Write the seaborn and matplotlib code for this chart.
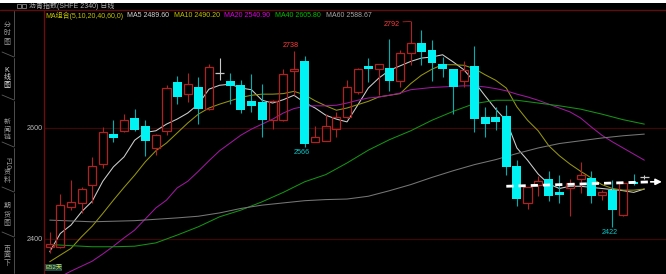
import matplotlib
matplotlib.use("Agg")
import matplotlib.pyplot as plt
from matplotlib.patches import Rectangle
from matplotlib.lines import Line2D
import numpy as np
import pandas as pd
import seaborn as sns

# ---------------- data ----------------
opens = [2386, 2386, 2458, 2464, 2498, 2536, 2589, 2595, 2618, 2604, 2564, 2595, 2682, 2661, 2674, 2635,
         2700, 2685, 2677, 2649, 2647, 2614, 2614, 2703, 2721, 2575, 2577, 2598, 2619, 2664, 2712, 2706,
         2709, 2684, 2736, 2753, 2740, 2715, 2706, 2684, 2712, 2620, 2620, 2622, 2531, 2465, 2497, 2508,
         2484, 2491, 2508, 2510, 2480, 2489, 2444, 2503, 2512]
highs = [2413, 2481, 2506, 2494, 2548, 2601, 2614, 2625, 2634, 2614, 2590, 2677, 2694, 2700, 2692, 2715,
         2727, 2699, 2686, 2698, 2680, 2650, 2707, 2738, 2729, 2604, 2626, 2628, 2686, 2708, 2727, 2715,
         2760, 2740, 2792, 2777, 2758, 2728, 2706, 2721, 2747, 2638, 2638, 2641, 2542, 2494, 2513, 2522,
         2516, 2508, 2539, 2522, 2488, 2506, 2503, 2518, 2516]
lows = [2375, 2384, 2452, 2446, 2464, 2528, 2575, 2592, 2595, 2550, 2551, 2587, 2643, 2646, 2607, 2633,
        2686, 2644, 2627, 2628, 2584, 2598, 2612, 2659, 2566, 2574, 2576, 2584, 2618, 2662, 2682, 2660,
        2666, 2674, 2714, 2714, 2685, 2692, 2625, 2673, 2593, 2584, 2596, 2515, 2460, 2454, 2477, 2469,
        2465, 2442, 2483, 2465, 2470, 2422, 2442, 2498, 2508]
closes = [2391, 2462, 2466, 2490, 2531, 2592, 2582, 2614, 2596, 2577, 2587, 2672, 2655, 2680, 2635, 2710,
          2700, 2675, 2632, 2640, 2614, 2649, 2697, 2706, 2572, 2583, 2604, 2619, 2674, 2706, 2706, 2715,
          2684, 2736, 2753, 2737, 2717, 2707, 2673, 2704, 2616, 2607, 2610, 2530, 2472, 2494, 2504, 2478,
          2480, 2501, 2516, 2478, 2485, 2452, 2501, 2499, 2512]

ma5_days = list(range(57))
ma5 = [2377, 2410, 2425, 2449, 2468, 2504, 2530, 2548, 2578, 2592, 2595, 2607, 2616, 2627, 2643, 2670,
       2677, 2679, 2672, 2669, 2650, 2645, 2651, 2659, 2646, 2636, 2623, 2616, 2611, 2641, 2672, 2690,
       2704, 2712, 2720, 2726, 2728, 2732, 2719, 2705, 2683, 2658, 2634, 2613, 2564, 2542, 2517, 2499,
       2491, 2495, 2495, 2493, 2491, 2489, 2487, 2484, 2490]
ma10_days = list(range(57))
ma10 = [2359, 2371, 2383, 2404, 2423, 2446, 2470, 2493, 2515, 2539, 2559, 2573, 2591, 2609, 2625, 2636,
        2643, 2649, 2655, 2659, 2661, 2661, 2662, 2666, 2660, 2649, 2640, 2632, 2636, 2642, 2648, 2656,
        2659, 2662, 2680, 2695, 2706, 2714, 2714, 2713, 2707, 2696, 2686, 2672, 2638, 2614, 2595, 2568,
        2550, 2535, 2522, 2510, 2498, 2491, 2488, 2488, 2490]
ma20_days = list(range(1, 57))
ma20 = [2332, 2342, 2351, 2360, 2373, 2387, 2402, 2416, 2436, 2456, 2470, 2492, 2504, 2522, 2541, 2559,
        2573, 2587, 2598, 2607, 2616, 2627, 2635, 2639, 2640, 2640, 2641, 2645, 2650, 2654, 2656, 2659,
        2663, 2669, 2671, 2673, 2674, 2675, 2676, 2676, 2674, 2671, 2667, 2661, 2656, 2650, 2643, 2636,
        2629, 2618, 2602, 2587, 2575, 2564, 2553, 2542]
ma40_days = list(range(0, 57, 2))
ma40 = [2390, 2388, 2386, 2386, 2387, 2393, 2407, 2422, 2440, 2452, 2467, 2484, 2503, 2516, 2537, 2560,
        2579, 2595, 2614, 2630, 2644, 2650, 2650, 2645, 2640, 2634, 2625, 2615, 2607]
ma60_days = [0, 4, 8, 12, 14, 16, 18, 20, 22, 24, 26, 28, 30, 32, 34, 36, 38, 40, 42, 44, 46, 48, 50, 52, 54, 56]
ma60 = [2434, 2431, 2433, 2438, 2441, 2447, 2455, 2461, 2465, 2469, 2471, 2472, 2477, 2487, 2498, 2511,
        2523, 2534, 2543, 2554, 2564, 2572, 2577, 2582, 2586, 2589]

ma_names = ["MA5", "MA10", "MA20", "MA40", "MA60"]
legend_texts = ["MA5 2489.60", "MA10 2490.20", "MA20 2540.90", "MA40 2605.80", "MA60 2588.67"]
legend_title = "MA组合(5,10,20,40,60,0)"
chart_title = "沥青指数(SHFE 2340) 日线"
ytick_values = [2400, 2600]
ytick_labels = ["2400", "2600"]
marked_high_days = [23, 34]
marked_low_days = [24, 53]
trend_days = [43.0, 56.7]
trend_prices = [2495, 2503]
sidebar_tabs = ["分时图", "K线图", "新闻链", "F10资料", "期货图", "页面下"]
period_label = "E52天"

# ---------------- style ----------------
sns.set_theme(style="dark", rc={"axes.facecolor": "black", "figure.facecolor": "black",
                                "grid.color": "#3c0808", "axes.edgecolor": "#6a0e0e"})
plt.rcParams['font.family'] = ['Liberation Sans', 'Noto Sans CJK SC', 'DejaVu Sans']

W, H = 666, 274
def fx(x):
    return x / W
def fy(y):
    return 1 - y / H

fig = plt.figure(figsize=(6.66, 2.74), dpi=100)
fig.patch.set_facecolor('black')
ax = fig.add_axes([fx(44), 0, fx(666) - fx(44), 1 - 10.3 / H])
ax.set_facecolor('black')

UP = '#b02222'
DOWN = '#00f2f2'
DOWN_WICK = '#00b0b0'
FLAT = '#c8c8c8'
ma_colors = {"MA5": "#cfcfcf", "MA10": "#969610", "MA20": "#a018a0", "MA40": "#149414", "MA60": "#767676"}

# MA lines via seaborn
frames = []
for name, d, v in zip(ma_names, [ma5_days, ma10_days, ma20_days, ma40_days, ma60_days],
                      [ma5, ma10, ma20, ma40, ma60]):
    frames.append(pd.DataFrame({"day": d, "price": v, "ma": name}))
df = pd.concat(frames, ignore_index=True)
sns.lineplot(data=df, x="day", y="price", hue="ma", palette=ma_colors, estimator=None,
             sort=False, lw=0.75, legend=False, ax=ax, zorder=2)

# candles
bw = 0.84
for i, (o, h, l, c) in enumerate(zip(opens, highs, lows, closes)):
    if c > o:
        ax.vlines(i, c, h, color=UP, lw=0.8, zorder=3)
        ax.vlines(i, l, o, color=UP, lw=0.8, zorder=3)
        ax.bar(i, c - o, bottom=o, width=bw - 0.08, facecolor='none', edgecolor=UP, lw=0.9, zorder=4)
    elif c < o:
        ax.vlines(i, l, h, color=DOWN_WICK, lw=0.8, zorder=3)
        ax.bar(i, o - c, bottom=c, width=bw, color=DOWN, lw=0, zorder=4)
    else:
        ax.vlines(i, l, h, color=FLAT, lw=0.8, zorder=3)
        ax.hlines(o, i - bw / 2, i + bw / 2, color=FLAT, lw=0.9, zorder=4)

# high / low marks
d = marked_high_days[0]
ax.annotate(str(highs[d]), xy=(d, highs[d]), xytext=(-2.4, 1.6), textcoords='offset points',
            ha='center', va='bottom', color='#ff3b3b', fontsize=5.2, zorder=6)
d = marked_high_days[1]
ax.annotate(str(highs[d]), xy=(d, highs[d]), xytext=(-8, -2.4), textcoords='offset points',
            ha='right', va='center', color='#ff3b3b', fontsize=5.2, zorder=6,
            arrowprops=dict(arrowstyle='-', color='#b02222', lw=0.6, shrinkA=0, shrinkB=0,
                            relpos=(1.0, 0.9)))
for d in marked_low_days:
    ax.annotate(str(lows[d]), xy=(d, lows[d]), xytext=(-2.3, -1.3), textcoords='offset points',
                ha='center', va='top', color='#00cccc', fontsize=5.2, zorder=6)

# dashed trend arrow
ax.plot(trend_days, trend_prices, color='white', lw=2.0, ls=(0, (2.6, 1.8)), zorder=7,
        solid_capstyle='butt')
ax.annotate('', xy=(trend_days[1] + 0.95, trend_prices[1]), xytext=(trend_days[1] - 0.1, trend_prices[1]),
            arrowprops=dict(arrowstyle='-|>', color='white', lw=1.2, mutation_scale=9,
                            shrinkA=0, shrinkB=0), zorder=7)

# axes setup
ax.set_xlim(-0.537, 58.04)
ax.set_ylim(2336.9, 2812.1)
ax.set_xticks([])
ax.set_yticks(ytick_values)
ax.set_yticklabels(ytick_labels)
ax.tick_params(axis='y', length=0, pad=1.2, labelsize=5.2, labelcolor='#b8b8b8')
ax.yaxis.grid(True, color='#3c0808', lw=0.9)
ax.xaxis.grid(False)
ax.set_xlabel('')
ax.set_ylabel('')
for s in ['right', 'bottom', 'top']:
    ax.spines[s].set_visible(False)
ax.spines['left'].set_color('#6a0e0e')
ax.spines['left'].set_linewidth(1.0)

# top decorations
fig.patches.append(Rectangle((0, fy(2.5)), 1, 2.5 / H, transform=fig.transFigure,
                             facecolor='white', edgecolor='none', zorder=10))
fig.lines.append(Line2D([0, 1], [fy(10.3), fy(10.3)], transform=fig.transFigure,
                        color='#5e0e0e', lw=1.0))
for x0 in (17, 22):
    fig.patches.append(Rectangle((fx(x0), fy(7.5)), 4 / W, 3.5 / H, transform=fig.transFigure,
                                 facecolor='none', edgecolor='#9a9a9a', lw=0.5))
fig.text(fx(29), fy(5.9), chart_title, color='#b4b4b4', fontsize=5, va='center', ha='left')

# legend row
fig.text(fx(45.7), fy(15.7), legend_title, color='#c4c400', fontsize=5, va='center', ha='left')
leg_x = [126.7, 174, 224, 275, 326]
leg_c = ['#d4d4d4', '#c4c400', '#e000e0', '#00c000', '#a8a8a8']
for x, t, c in zip(leg_x, legend_texts, leg_c):
    fig.text(fx(x), fy(15.7), t, color=c, fontsize=5, va='center', ha='left')

# sidebar
tab_bounds = [10.3, 57, 100, 147, 192, 237, 274]
for k in range(1, len(tab_bounds) - 1):
    b = tab_bounds[k]
    fig.lines.append(Line2D([fx(2), fx(14)], [fy(b - 5), fy(b)], transform=fig.transFigure,
                            color='#5a5a5a', lw=0.6))
for k in range(len(tab_bounds) - 1):
    fig.lines.append(Line2D([fx(14), fx(14)], [fy(tab_bounds[k] + 1), fy(tab_bounds[k + 1] - 1)],
                            transform=fig.transFigure, color='#5a5a5a', lw=0.6))
char_y = {
    "分时图": [25, 33.3, 42.7],
    "K线图": [70, 77.5, 86],
    "新闻链": [122.7, 130, 137.5],
    "期货图": [206.7, 215, 223.3],
    "页面下": [248.3, 255.7, 263.3],
}
for tab in sidebar_tabs:
    col = '#e4e4e4' if tab == "K线图" else '#9c9c9c'
    if tab in char_y:
        for ch, yy in zip(tab, char_y[tab]):
            fig.text(fx(7), fy(yy), ch, color=col, fontsize=5, ha='center', va='center')
    else:
        fig.text(fx(7), fy(163.5), tab[:3], color=col, fontsize=5, ha='center', va='center', rotation=270)
        fig.text(fx(7), fy(173.3), tab[3], color=col, fontsize=5, ha='center', va='center')
        fig.text(fx(7), fy(180.7), tab[4], color=col, fontsize=5, ha='center', va='center')

# bottom-left label
fig.text(fx(45), fy(267.5), period_label, color='#e0e040', fontsize=4.4, ha='left', va='center',
         bbox=dict(facecolor='#1a4a4a', edgecolor='none', pad=0.2))

fig.savefig('out.png', dpi=100, facecolor='black')
